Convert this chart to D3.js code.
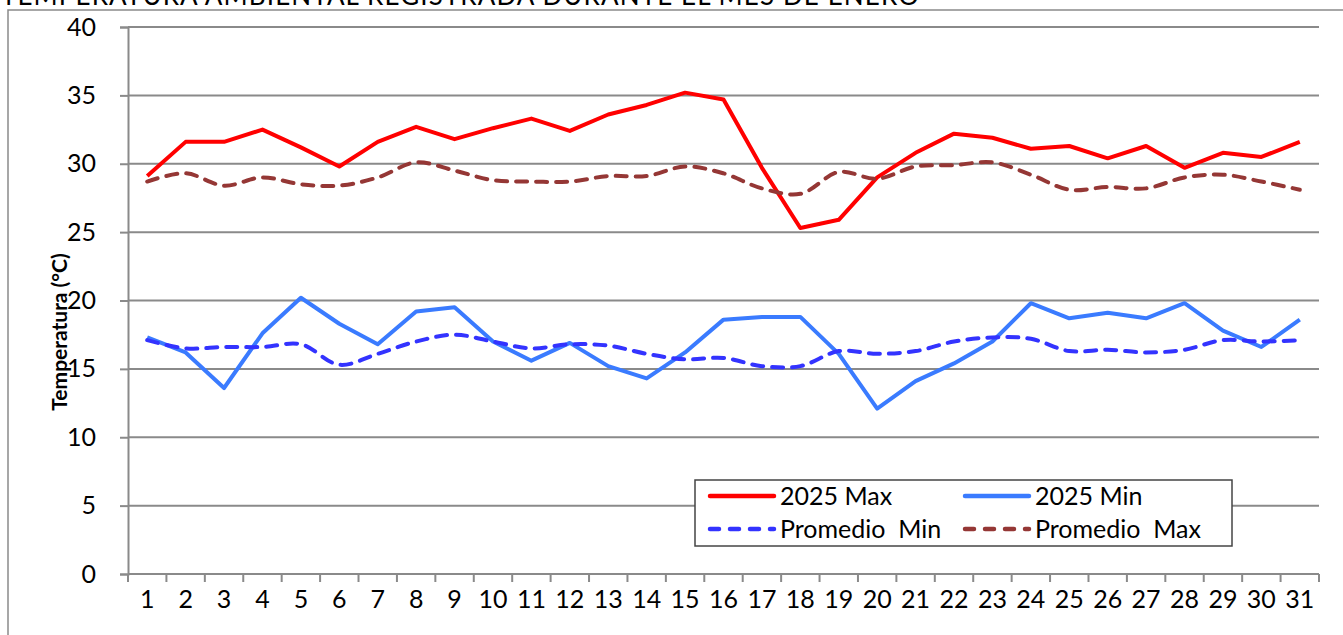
<!DOCTYPE html>
<html>
<head>
<meta charset="utf-8">
<script src="https://cdn.jsdelivr.net/npm/d3@7"></script>
<style>
  body { margin: 0; background: #fff; }
  svg { display: block; font-family: Lato, "Open Sans", sans-serif; }
</style>
</head>
<body>
<svg id="chart" width="1343" height="635"></svg>
<script>
// days of January
const days = d3.range(1, 32).map(String);
const yTicks = [0, 5, 10, 15, 20, 25, 30, 35, 40];

const max2025 = [29.1, 31.6, 31.6, 32.5, 31.2, 29.8, 31.6, 32.7, 31.8, 32.6, 33.3, 32.4, 33.6, 34.3, 35.2, 34.7,
  29.7, 25.3, 25.9, 29.0, 30.8, 32.2, 31.9, 31.1, 31.3, 30.4, 31.3, 29.7, 30.8, 30.5, 31.6];
const min2025 = [17.3, 16.2, 13.6, 17.6, 20.2, 18.3, 16.8, 19.2, 19.5, 17.0, 15.6, 16.9, 15.2, 14.3, 16.2, 18.6,
  18.8, 18.8, 16.1, 12.1, 14.1, 15.4, 17.0, 19.8, 18.7, 19.1, 18.7, 19.8, 17.8, 16.6, 18.6];
const promMin = [17.1, 16.5, 16.6, 16.6, 16.8, 15.3, 16.1, 17.0, 17.5, 17.0, 16.5, 16.8, 16.7, 16.1, 15.7, 15.8,
  15.2, 15.2, 16.3, 16.1, 16.3, 17.0, 17.3, 17.2, 16.3, 16.4, 16.2, 16.4, 17.1, 17.0, 17.1];
const promMax = [28.7, 29.3, 28.4, 29.0, 28.5, 28.4, 29.0, 30.1, 29.5, 28.8, 28.7, 28.7, 29.1, 29.1, 29.8, 29.3,
  28.2, 27.8, 29.4, 28.9, 29.8, 29.9, 30.1, 29.2, 28.1, 28.3, 28.2, 29.0, 29.2, 28.7, 28.1];

const series = [
  { name: "2025 Max", values: max2025, color: "#ff0000", dash: null, smooth: false },
  { name: "2025 Min", values: min2025, color: "#3a7bff", dash: null, smooth: false },
  { name: "Promedio  Min", values: promMin, color: "#3333ff", dash: "11,9", smooth: true },
  { name: "Promedio  Max", values: promMax, color: "#953735", dash: "11,9", smooth: true }
];

const svg = d3.select("#chart");
const gridColor = "#8a8a8a";

// outer frame + title (cut off at the top, as in the source image)
svg.append("rect")
  .attr("x", 8).attr("y", 10).attr("width", 1400).attr("height", 700)
  .attr("fill", "none").attr("stroke", gridColor).attr("stroke-width", 1.5);
svg.append("text")
  .attr("x", 1).attr("y", 5)
  .attr("font-size", 26)
  .attr("textLength", 918)
  .text("TEMPERATURA AMBIENTAL REGISTRADA DURANTE EL MES DE ENERO");

const plotLeft = 128, plotRight = 1319, plotTop = 27, plotBottom = 574;

const x = d3.scaleBand().domain(days).range([plotLeft, plotRight]);
const y = d3.scaleLinear().domain([0, 40]).range([plotBottom, plotTop]);

// horizontal gridlines
svg.append("g")
  .selectAll("line")
  .data(yTicks.filter(d => d > 0))
  .join("line")
  .attr("x1", plotLeft).attr("x2", plotRight)
  .attr("y1", d => y(d)).attr("y2", d => y(d))
  .attr("stroke", gridColor).attr("stroke-width", 2);

// y axis
const yAxis = svg.append("g")
  .attr("transform", `translate(${plotLeft},0)`)
  .call(d3.axisLeft(y).tickValues(yTicks).tickSize(8).tickPadding(24));
yAxis.select(".domain").attr("stroke", gridColor).attr("stroke-width", 2);
yAxis.selectAll(".tick line").attr("stroke", gridColor).attr("stroke-width", 2);
yAxis.selectAll(".tick text").attr("font-size", 25).attr("fill", "#000")
  .attr("font-family", "Lato, sans-serif");

// x axis: ticks on category boundaries
const xAxis = svg.append("g")
  .attr("transform", `translate(0,${plotBottom})`)
  .call(d3.axisBottom(x).tickSize(0).tickPadding(16));
xAxis.select(".domain").remove();
xAxis.selectAll(".tick text").attr("font-size", 25).attr("fill", "#000")
  .attr("font-family", "Lato, sans-serif");
svg.append("line")
  .attr("x1", plotLeft).attr("x2", plotRight).attr("y1", plotBottom).attr("y2", plotBottom)
  .attr("stroke", gridColor).attr("stroke-width", 2);
svg.append("g")
  .selectAll("line")
  .data(days.concat(["end"]))
  .join("line")
  .attr("x1", (d, i) => plotLeft + i * x.step())
  .attr("x2", (d, i) => plotLeft + i * x.step())
  .attr("y1", plotBottom).attr("y2", plotBottom + 8)
  .attr("stroke", gridColor).attr("stroke-width", 2);

// y axis title
svg.append("text")
  .attr("transform", "translate(67,332) rotate(-90)")
  .attr("text-anchor", "middle")
  .attr("font-size", 21).attr("font-weight", "bold")
  .text("Temperatura (°C)");

// lines
const cx = (d, i) => x(days[i]) + x.bandwidth() / 2;
series.forEach(s => {
  const line = d3.line()
    .x(cx)
    .y(d => y(d))
    .curve(s.smooth ? d3.curveCatmullRom.alpha(0.5) : d3.curveLinear);
  svg.append("path")
    .datum(s.values)
    .attr("d", line)
    .attr("fill", "none")
    .attr("stroke", s.color)
    .attr("stroke-width", 4)
    .attr("stroke-linejoin", "round")
    .attr("stroke-linecap", s.dash ? "round" : "butt")
    .attr("stroke-dasharray", s.dash);
});

// legend
const lg = svg.append("g").attr("transform", "translate(695,480)");
lg.append("rect")
  .attr("width", 537).attr("height", 66)
  .attr("fill", "#fff").attr("stroke", "#444").attr("stroke-width", 1.5);
const legendPos = [[0, 0], [1, 0], [0, 1], [1, 1]];
series.forEach((s, i) => {
  const [col, row] = legendPos[i];
  const g = lg.append("g").attr("transform", `translate(${13 + col * 255},${16 + row * 33})`);
  g.append("line")
    .attr("x1", 2).attr("x2", 66).attr("y1", 0).attr("y2", 0)
    .attr("stroke", s.color).attr("stroke-width", 4.5)
    .attr("stroke-linecap", "round")
    .attr("stroke-dasharray", s.dash ? "9,11" : null);
  g.append("text")
    .attr("x", 72).attr("y", 0).attr("dy", "0.35em")
    .attr("font-size", 25)
    .text(s.name)
    .style("white-space", "pre");
});
</script>
</body>
</html>
